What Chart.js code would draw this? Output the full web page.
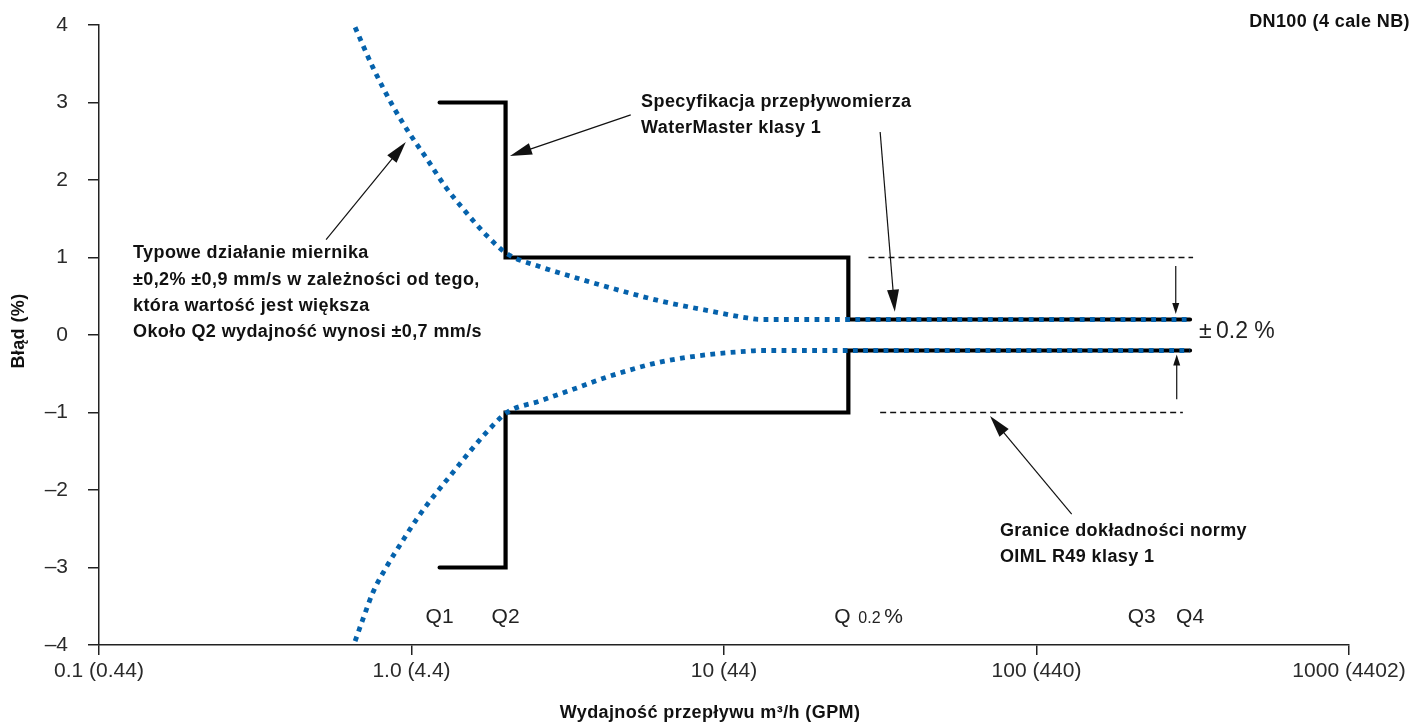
<!DOCTYPE html>
<html>
<head>
<meta charset="utf-8">
<script src="https://cdn.jsdelivr.net/npm/chart.js@4/dist/chart.umd.min.js"></script>
<style>
  html, body { margin: 0; padding: 0; background: #fff; }
  #chart { display: block; }
</style>
</head>
<body>
<canvas id="chart" width="1413" height="724"></canvas>
<script>
// Typical meter performance (blue dotted envelope), flow in m3/h, error in %
var flowUpper = [0.66, 0.753, 0.873, 0.982, 1.121, 1.28, 1.483, 1.744, 2.02, 2.58, 3.22, 4.32, 6.24, 9.02, 11.85, 13.0, 310];
var errUpper = [3.97, 3.45, 2.95, 2.61, 2.27, 1.92, 1.60, 1.28, 1.05, 0.88, 0.76, 0.61, 0.44, 0.31, 0.22, 0.2, 0.2];
var flowLower = [0.66, 0.70, 0.753, 0.835, 0.932, 1.041, 1.172, 1.328, 1.54, 1.78, 2.02, 2.58, 3.29, 4.32, 6.24, 9.02, 11.85, 13.0, 310];
var errLower = [-3.95, -3.66, -3.32, -2.98, -2.67, -2.37, -2.09, -1.82, -1.50, -1.21, -1.0, -0.85, -0.70, -0.53, -0.35, -0.25, -0.21, -0.2, -0.2];

// WaterMaster class 1 specification (step)
var specFlow = [1.23, 2.0, 2.0, 25, 25, 310];
var specUpper = [3, 3, 1, 1, 0.2, 0.2];
var specLower = [-3, -3, -1, -1, -0.2, -0.2];

// OIML R49 class 1 limits (dashed)
var oimlUpperFlow = [29, 317];
var oimlUpperErr = [1, 1];
var oimlLowerFlow = [31.6, 294];
var oimlLowerErr = [-1, -1];

var xTickValues = [0.1, 1, 10, 100, 1000];
var xTickLabels = ['0.1 (0.44)', '1.0 (4.4)', '10 (44)', '100 (440)', '1000 (4402)'];
var yTickValues = [-4, -3, -2, -1, 0, 1, 2, 3, 4];

var qNames = ['Q1', 'Q2', 'Q3', 'Q4'];
var qFlows = [1.23, 2.0, 217, 310];

var BLUE = '#0562ac';
var TICK_FONT = '"Liberation Sans", Arial, Helvetica, sans-serif';
var BOLD_FONT = 'bold 18px "Liberation Sans", Arial, sans-serif';

function pts(xs, ys) {
  return xs.map(function (x, i) { return { x: x, y: ys[i] }; });
}

function arrow(ctx, x1, y1, x2, y2, len, half) {
  var a = Math.atan2(y2 - y1, x2 - x1);
  ctx.beginPath();
  ctx.moveTo(x1, y1);
  ctx.lineTo(x2 - Math.cos(a) * len * 0.8, y2 - Math.sin(a) * len * 0.8);
  ctx.stroke();
  ctx.beginPath();
  ctx.moveTo(x2, y2);
  ctx.lineTo(x2 - Math.cos(a) * len - Math.sin(a) * half, y2 - Math.sin(a) * len + Math.cos(a) * half);
  ctx.lineTo(x2 - Math.cos(a) * len + Math.sin(a) * half, y2 - Math.sin(a) * len - Math.cos(a) * half);
  ctx.closePath();
  ctx.fill();
}

// callouts, in data coordinates: [fromFlow, fromErr, toFlow, toErr, big]
var callouts = [
  [0.533, 1.23, 0.959, 2.49, true],
  [5.03, 2.84, 2.066, 2.31, true],
  [31.6, 2.62, 35.2, 0.30, true],
  [129.6, -2.31, 71, -1.045, true],
  [279, 0.89, 279, 0.27, false],
  [281, -0.83, 281, -0.25, false]
];

var annotate = {
  id: 'annotate',
  afterDatasetsDraw: function (chart) {
    var ctx = chart.ctx, x = chart.scales.x, y = chart.scales.y;
    var px = function (v) { return x.getPixelForValue(v); };
    var py = function (v) { return y.getPixelForValue(v); };
    ctx.save();
    ctx.strokeStyle = '#111';
    ctx.fillStyle = '#111';
    ctx.lineWidth = 1.2;
    callouts.forEach(function (c) {
      if (c[4]) arrow(ctx, px(c[0]), py(c[1]), px(c[2]), py(c[3]), 22, 6);
      else arrow(ctx, px(c[0]), py(c[1]), px(c[2]), py(c[3]), 11, 3.5);
    });

    // bold note blocks
    ctx.font = BOLD_FONT;
    ctx.letterSpacing = '0.4px';
    ctx.textAlign = 'left';
    ctx.textBaseline = 'alphabetic';
    function block(lines, fx, fy) {
      lines.forEach(function (t, i) { ctx.fillText(t, px(fx), py(fy) + i * 26.3); });
    }
    block(['Typowe działanie miernika',
      '±0,2% ±0,9 mm/s w zależności od tego,',
      'która wartość jest większa',
      'Około Q2 wydajność wynosi ±0,7 mm/s'], 0.1285, 0.99);
    block(['Specyfikacja przepływomierza', 'WaterMaster klasy 1'], 5.43, 2.94);
    block(['Granice dokładności normy', 'OIML R49 klasy 1'], 76.4, -2.59);

    ctx.textAlign = 'right';
    ctx.fillText('DN100 (4 cale NB)', chart.width - 3, 27);

    // axis titles
    ctx.textAlign = 'center';
    ctx.fillText('Wydajność przepływu m³/h (GPM)', (x.left + x.right) / 2 - 14, 718);
    ctx.save();
    ctx.translate(24, (y.top + y.bottom) / 2 - 4);
    ctx.rotate(-Math.PI / 2);
    ctx.fillText('Błąd (%)', 0, 0);
    ctx.restore();
    ctx.letterSpacing = '0px';

    // Q markers
    ctx.fillStyle = '#222';
    ctx.font = '21px ' + TICK_FONT;
    ctx.textAlign = 'center';
    qNames.forEach(function (q, i) { ctx.fillText(q, px(qFlows[i]), py(-3.72)); });
    ctx.textAlign = 'left';
    var qx = px(25) - 14;
    ctx.fillText('Q', qx, py(-3.72));
    ctx.font = '16px ' + TICK_FONT;
    ctx.fillText('0.2', qx + 24, py(-3.72));
    ctx.font = '21px ' + TICK_FONT;
    ctx.fillText('%', qx + 50, py(-3.72));

    ctx.font = '23px ' + TICK_FONT;
    ctx.fillText('±', px(331), py(-0.04));
    ctx.fillText('0.2 %', px(331) + 17, py(-0.04));
    ctx.restore();
  }
};

var lineBase = { showLine: true, pointRadius: 0, pointHoverRadius: 0, fill: false };

new Chart(document.getElementById('chart'), {
  type: 'scatter',
  data: {
    datasets: [
      Object.assign({ data: pts(flowUpper, errUpper), borderColor: BLUE, borderWidth: 4.8,
        borderDash: [4.8, 5.4], borderCapStyle: 'butt', cubicInterpolationMode: 'monotone', order: 0 }, lineBase),
      Object.assign({ data: pts(flowLower, errLower), borderColor: BLUE, borderWidth: 4.8,
        borderDash: [4.8, 5.4], borderCapStyle: 'butt', cubicInterpolationMode: 'monotone', order: 0 }, lineBase),
      Object.assign({ data: pts(specFlow, specUpper), borderColor: '#000', borderWidth: 4.2,
        borderCapStyle: 'round', borderJoinStyle: 'miter', tension: 0, order: 1 }, lineBase),
      Object.assign({ data: pts(specFlow, specLower), borderColor: '#000', borderWidth: 4.2,
        borderCapStyle: 'round', borderJoinStyle: 'miter', tension: 0, order: 1 }, lineBase),
      Object.assign({ data: pts(oimlUpperFlow, oimlUpperErr), borderColor: '#111', borderWidth: 1.4,
        borderDash: [6, 4], tension: 0, order: 2 }, lineBase),
      Object.assign({ data: pts(oimlLowerFlow, oimlLowerErr), borderColor: '#111', borderWidth: 1.4,
        borderDash: [6, 4], tension: 0, order: 2 }, lineBase)
    ]
  },
  options: {
    responsive: false,
    animation: false,
    devicePixelRatio: 1,
    layout: { padding: { left: 0, right: 64, top: 25, bottom: 0 } },
    plugins: { legend: { display: false }, tooltip: { enabled: false } },
    scales: {
      x: {
        type: 'logarithmic',
        min: 0.1,
        max: 1000,
        afterFit: function (s) { s.height = 79; s.paddingLeft = 0; s.paddingRight = 0; },
        afterBuildTicks: function (s) { s.ticks = xTickValues.map(function (v) { return { value: v }; }); },
        ticks: {
          color: '#2a2a2a',
          font: { family: TICK_FONT, size: 21 },
          padding: 4,
          maxRotation: 0,
          autoSkip: false,
          callback: function (v) {
            var i = xTickValues.indexOf(v);
            return i >= 0 ? xTickLabels[i] : '';
          }
        },
        grid: { drawOnChartArea: false, drawTicks: true, tickLength: 10, color: '#222', lineWidth: 1.5 },
        border: { display: true, color: '#222', width: 1.5 }
      },
      y: {
        type: 'linear',
        min: -4,
        max: 4,
        afterFit: function (s) { s.width = 99; s.paddingTop = 0; s.paddingBottom = 0; },
        afterBuildTicks: function (s) { s.ticks = yTickValues.map(function (v) { return { value: v }; }); },
        ticks: {
          color: '#2a2a2a',
          font: { family: TICK_FONT, size: 21 },
          padding: 20,
          callback: function (v) { return v < 0 ? '–' + Math.abs(v) : String(v); }
        },
        grid: { drawOnChartArea: false, drawTicks: true, tickLength: 11, color: '#222', lineWidth: 1.5 },
        border: { display: true, color: '#222', width: 1.5 }
      }
    }
  },
  plugins: [annotate]
});
</script>
</body>
</html>
